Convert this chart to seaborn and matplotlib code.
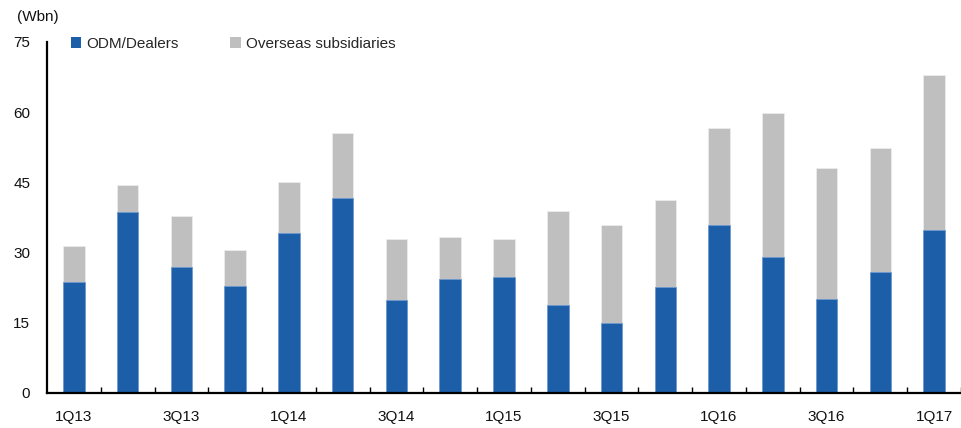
import numpy as np
import pandas as pd
import matplotlib
matplotlib.use("Agg")
import matplotlib.pyplot as plt
import seaborn as sns
from matplotlib.patches import Patch

quarters = ["1Q13", "2Q13", "3Q13", "4Q13", "1Q14", "2Q14", "3Q14", "4Q14",
            "1Q15", "2Q15", "3Q15", "4Q15", "1Q16", "2Q16", "3Q16", "4Q16", "1Q17"]
odm_dealers = [23.7, 38.7, 27.0, 22.9, 34.1, 41.6, 19.9, 24.4,
               24.7, 18.7, 15.0, 22.6, 36.0, 29.1, 20.0, 25.8, 34.8]
overseas = [7.7, 5.8, 10.8, 7.7, 11.0, 14.0, 12.9, 9.0,
            8.1, 20.2, 20.8, 18.7, 20.7, 30.7, 28.1, 26.6, 33.1]
y_ticks = [0, 15, 30, 45, 60, 75]
shown_labels = ["1Q13", "3Q13", "1Q14", "3Q14", "1Q15", "3Q15", "1Q16", "3Q16", "1Q17"]

BLUE = "#1c5fa8"
GRAY = "#bfbfbf"

sns.set_theme(style="white")
plt.rcParams["font.family"] = ["Liberation Sans", "DejaVu Sans"]

df = pd.DataFrame({"quarter": quarters, "odm": odm_dealers, "overseas": overseas})
df["total"] = df["odm"] + df["overseas"]

fig = plt.figure(figsize=(9.62, 4.28), dpi=100)
ax = fig.add_axes([47 / 962, 35 / 428, 914 / 962, 351 / 428])

sns.barplot(data=df, x="quarter", y="total", color=GRAY, width=0.4, ax=ax,
            saturation=1, edgecolor="#ececec", linewidth=0.6)
sns.barplot(data=df, x="quarter", y="odm", color=BLUE, width=0.4, ax=ax,
            saturation=1, edgecolor="#6f9bd0", linewidth=0.6)

ax.set_xlim(-0.5, len(quarters) - 0.5)
ax.set_ylim(0, 75)
ax.set_xlabel("")
ax.set_ylabel("")

ax.set_yticks(y_ticks)
ax.set_yticklabels([str(v) for v in y_ticks], fontsize=11, color="#111111")
ax.tick_params(axis="y", which="major", length=0, pad=12)
ax.set_yticks([75], minor=True)
ax.tick_params(axis="y", which="minor", direction="in", length=5, width=1.5, color="black", left=True)

ax.set_xticks(range(len(quarters)))
ax.set_xticklabels([q if q in shown_labels else "" for q in quarters], fontsize=11, color="#111111")
ax.tick_params(axis="x", which="major", length=0, pad=12)
ax.set_xticks(np.arange(0.5, len(quarters), 1), minor=True)
ax.tick_params(axis="x", which="minor", direction="in", length=4, width=1, color="black", bottom=True)

for side in ["top", "right"]:
    ax.spines[side].set_visible(False)
for side in ["left", "bottom"]:
    ax.spines[side].set_color("black")
    ax.spines[side].set_linewidth(1.6)

handles = [Patch(facecolor=BLUE, edgecolor="none", label="ODM/Dealers"),
           Patch(facecolor=GRAY, edgecolor="none", label="Overseas subsidiaries")]
ax.legend(handles=handles, loc="center left", bbox_to_anchor=(0.026, 0.994), ncol=2,
          frameon=False, fontsize=11, handlelength=0.7, handleheight=0.7,
          handletextpad=0.3, columnspacing=3.4, borderpad=0, borderaxespad=0)

fig.text(17 / 962, 1 - 17 / 428, "(Wbn)", fontsize=11, va="center", ha="left", color="#111111")

fig.savefig("out.png", dpi=100)
